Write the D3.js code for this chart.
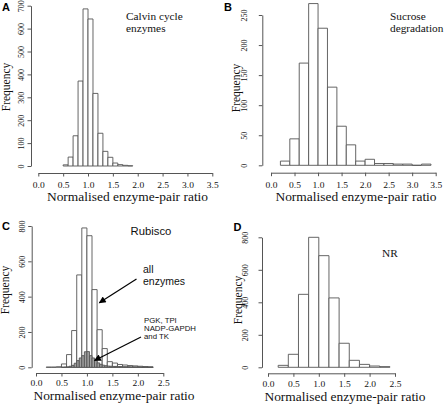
<!DOCTYPE html>
<html><head><meta charset="utf-8">
<script src="https://cdn.jsdelivr.net/npm/d3@7"></script>
<style>
html,body{margin:0;padding:0;background:#fff;}
svg{display:block;}
</style>
</head><body>
<svg id="chart" width="447" height="406"></svg>
<script>
// ---------- DATA ----------
// Panel A: Calvin cycle enzymes, bins of 0.1 starting at 0.5
const calvinStart = 0.5, calvinStep = 0.1;
const calvinCounts = [5, 39, 132, 371, 686, 642, 317, 143, 64, 38, 13, 6, 3, 1];
const calvinXTicks = [0.0, 0.5, 1.0, 1.5, 2.0, 2.5, 3.0, 3.5];
const calvinYTicks = [0, 100, 200, 300, 400, 500, 600, 700];

// Panel B: Sucrose degradation, bins of 0.2 starting at 0.2
const sucroseStart = 0.2, sucroseStep = 0.2;
const sucroseCounts = [7, 44, 170, 269, 228, 130, 65, 34, 7, 10, 3, 3, 2, 2, 0, 2];
const sucroseXTicks = [0.0, 0.5, 1.0, 1.5, 2.0, 2.5, 3.0, 3.5];
const sucroseYTicks = [0, 50, 100, 150, 200, 250];

// Panel C: Rubisco vs all enzymes (bins 0.1 from 0.2) and PGK/TPI/NADP-GAPDH/TK (bins 0.05 from 0.5)
const allStart = 0.2, allStep = 0.1;
const allCounts = [1, 1, 3, 19, 72, 208, 523, 789, 745, 440, 213, 106, 32, 24, 16, 13, 10, 8, 6, 4, 2];
const subsetStart = 0.5, subsetStep = 0.05;
const subsetCounts = [0, 1, 2, 6, 11, 23, 38, 53, 66, 88, 89, 66, 53, 38, 25, 17, 12, 9, 7, 6,
                      5, 5, 4, 4, 3, 3, 3, 2, 2, 2, 2, 1, 1, 1, 1, 1];
const rubiscoXTicks = [0.0, 0.5, 1.0, 1.5, 2.0, 2.5];
const rubiscoYTicks = [0, 200, 400, 600, 800];

// Panel D: NR, bins of 0.2 starting at 0.2
const nrStart = 0.2, nrStep = 0.2;
const nrCounts = [12, 80, 449, 800, 687, 427, 148, 43, 18, 8, 4];
const nrXTicks = [0.0, 0.5, 1.0, 1.5, 2.0, 2.5];
const nrYTicks = [0, 200, 400, 600, 800];

const xTitle = "Normalised enzyme-pair ratio";
const yTitle = "Frequency";

// ---------- DRAW ----------
const svg = d3.select("#chart");
const AXIS = "#555", BAR = "#555", TXT = "#111";
const SERIF = "'Liberation Serif', 'Times New Roman', serif";
const SANS = "'Liberation Sans', Arial, sans-serif";
const STRETCH = 1.12;

function binsOf(start, step, counts) {
  return counts.map((c, i) => ({x0: +(start + i * step).toFixed(4), x1: +(start + (i + 1) * step).toFixed(4), n: c}));
}

function panel(o) {
  const g = svg.append("g");
  const x = d3.scaleLinear().domain([o.xTicks[0], o.xTicks[o.xTicks.length - 1]]).range(o.xr);
  const y = d3.scaleLinear().domain([o.yTicks[0], o.yTicks[o.yTicks.length - 1]]).range(o.yr);

  o.series.forEach(s => {
    g.append("g").selectAll("path").data(binsOf(s.start, s.step, s.counts)).join("path")
      .attr("d", d => `M${x(d.x0)},${y(0)}V${y(d.n)}H${x(d.x1)}V${y(0)}Z`)
      .attr("fill", s.fill).attr("stroke", BAR).attr("stroke-width", 0.9);
  });

  // x axis
  const xa = g.append("g").attr("transform", `translate(0,${o.xAxisY})`)
    .call(d3.axisBottom(x).tickValues(o.xTicks).tickSize(3.5).tickSizeOuter(0).tickFormat(d3.format(".1f")));
  xa.attr("font-family", null).attr("font-size", null);
  xa.select(".domain").attr("stroke", AXIS);
  xa.selectAll(".tick line").attr("stroke", AXIS);
  xa.selectAll(".tick text").style("font-family", SERIF).attr("fill", TXT)
    .style("font-size", o.tickFs + "px").attr("y", 0).attr("dy", 0)
    .attr("transform", `translate(0,${o.xLabY - o.xAxisY}) scale(${STRETCH},1)`);

  // y axis
  const ya = g.append("g").attr("transform", `translate(${o.yAxisX},0)`)
    .call(d3.axisLeft(y).tickValues(o.yTicks).tickSize(3.5).tickSizeOuter(0));
  ya.attr("font-family", null).attr("font-size", null);
  ya.select(".domain").attr("stroke", AXIS);
  ya.selectAll(".tick line").attr("stroke", AXIS);
  ya.selectAll(".tick text").style("font-family", SERIF).attr("fill", TXT)
    .style("font-size", o.yTickFs + "px").attr("x", 0).attr("dy", 0).attr("text-anchor", "middle")
    .attr("transform", `translate(${o.yLabX - o.yAxisX},0) rotate(-90)`);

  g.append("text").style("font-family", SERIF).attr("fill", TXT).style("font-size", o.titleFs + "px")
    .attr("text-anchor", "middle")
    .attr("transform", `translate(${o.titleX},${o.titleY}) scale(${STRETCH},1)`).text(xTitle);
  g.append("text").style("font-family", SERIF).attr("fill", TXT).style("font-size", "11.5px")
    .attr("text-anchor", "middle")
    .attr("transform", `translate(${o.freqX},${o.freqY}) rotate(-90)`).text(yTitle);

  g.append("text").style("font-family", SANS).attr("font-weight", "bold").style("font-size", "11px")
    .attr("x", o.letterX).attr("y", o.letterY).attr("fill", "#000").text(o.letter);
  return {g, x, y};
}

panel({letter: "A", letterX: 2, letterY: 10.5,
  series: [{start: calvinStart, step: calvinStep, counts: calvinCounts, fill: "#fff"}],
  xTicks: calvinXTicks, yTicks: calvinYTicks,
  xr: [38.3, 212.3], yr: [166, 5.7], xAxisY: 173, yAxisX: 31,
  xLabY: 187.5, yLabX: 24.3, tickFs: 8.5, yTickFs: 8, titleFs: 12, titleX: 127.5, titleY: 200.5,
  freqX: 10, freqY: 87});

panel({letter: "B", letterX: 224, letterY: 10.5,
  series: [{start: sucroseStart, step: sucroseStep, counts: sucroseCounts, fill: "#fff"}],
  xTicks: sucroseXTicks, yTicks: sucroseYTicks,
  xr: [271, 435.7], yr: [165.3, 15], xAxisY: 172.7, yAxisX: 262.3,
  xLabY: 187.5, yLabX: 247, tickFs: 8.5, yTickFs: 8, titleFs: 12, titleX: 356, titleY: 200.5,
  freqX: 240, freqY: 88});

panel({letter: "C", letterX: 2, letterY: 229.5,
  series: [{start: allStart, step: allStep, counts: allCounts, fill: "#fff"},
           {start: subsetStart, step: subsetStep, counts: subsetCounts, fill: "#a0a0a0"}],
  xTicks: rubiscoXTicks, yTicks: rubiscoYTicks,
  xr: [36, 163.3], yr: [367.3, 226], xAxisY: 373, yAxisX: 31.7,
  xLabY: 386, yLabX: 24.5, tickFs: 8.5, yTickFs: 8, titleFs: 12, titleX: 114, titleY: 400,
  freqX: 9, freqY: 290});

panel({letter: "D", letterX: 233.5, letterY: 231,
  series: [{start: nrStart, step: nrStep, counts: nrCounts, fill: "#fff"}],
  xTicks: nrXTicks, yTicks: nrYTicks,
  xr: [268, 395], yr: [367.3, 237.3], xAxisY: 373.3, yAxisX: 262,
  xLabY: 386.5, yLabX: 248, tickFs: 8.5, yTickFs: 8, titleFs: 12, titleX: 345, titleY: 400.5,
  freqX: 242, freqY: 300});

// ---------- annotations ----------
function lines(fam, fs, x, y0, lh, arr) {
  arr.forEach((t, i) => svg.append("text").style("font-family", fam).style("font-size", fs + "px").attr("fill", TXT)
    .attr("x", x).attr("y", y0 + i * lh).text(t));
}
lines(SERIF, 11.3, 126, 19.5, 12, ["Calvin cycle", "enzymes"]);
lines(SERIF, 11.3, 390, 19.5, 12.5, ["Sucrose", "degradation"]);
lines(SANS, 11.3, 130.5, 234.5, 12, ["Rubisco"]);
lines(SANS, 10.5, 143, 273, 12, ["all", "enzymes"]);
lines(SANS, 7.8, 144, 323, 7.8, ["PGK, TPI", "NADP-GAPDH", "and TK"]);
lines(SERIF, 11.3, 382, 257, 12, ["NR"]);

const defs = svg.append("defs");
defs.append("marker").attr("id", "ah").attr("viewBox", "0 0 10 10").attr("refX", 9).attr("refY", 5)
  .attr("markerWidth", 9).attr("markerHeight", 7).attr("markerUnits", "userSpaceOnUse").attr("orient", "auto")
  .append("path").attr("d", "M0,0L10,5L0,10Z").attr("fill", "#000");
const arrows = [[136.5, 279, 99.3, 302.8], [141, 337, 94.5, 360.5]];
svg.selectAll("line.arrow").data(arrows).join("line").attr("class", "arrow")
  .attr("x1", d => d[0]).attr("y1", d => d[1]).attr("x2", d => d[2]).attr("y2", d => d[3])
  .attr("stroke", "#000").attr("stroke-width", 1.2).attr("marker-end", "url(#ah)");
</script>
</body></html>
